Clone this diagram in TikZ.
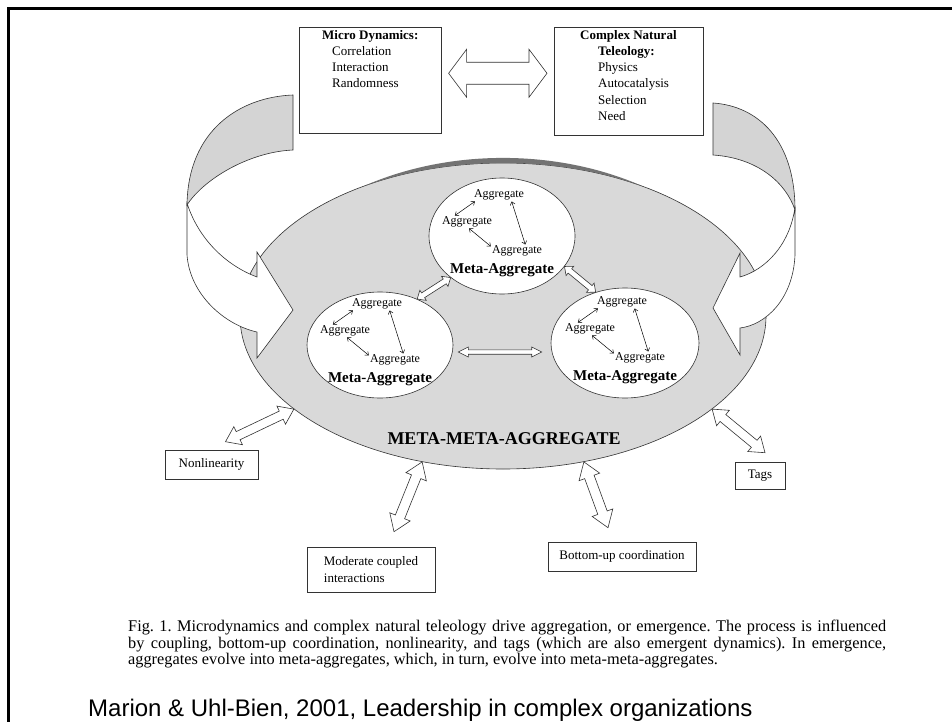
\documentclass[tikz,border=0pt]{standalone}
\usepackage{fontspec}
\setmainfont{Liberation Serif}
\newfontfamily\arialfont{Liberation Sans}
\usetikzlibrary{arrows.meta,calc,shapes.geometric}
\frenchspacing

% hollow double-headed block arrow: [style]{from}{to}{head length}{head half width}{shaft half width}
\newcommand{\blockarrow}[6][]{%
  \coordinate (bs) at #2;
  \coordinate (be) at #3;
  \coordinate (ba1) at ($(bs)!#4!(be)$);
  \coordinate (ba2) at ($(be)!#4!(bs)$);
  \draw[blockarr,#1] (bs) -- ($(ba1)!#5!90:(be)$) -- ($(ba1)!#6!90:(be)$)
    -- ($(ba2)!#6!-90:(bs)$) -- ($(ba2)!#5!-90:(bs)$) -- (be)
    -- ($(ba2)!#5!90:(bs)$) -- ($(ba2)!#6!90:(bs)$)
    -- ($(ba1)!#6!-90:(be)$) -- ($(ba1)!#5!-90:(be)$) -- cycle;
}

\tikzset{
  frameline/.style={line width=3pt,black,line join=miter},
  bigblob/.style={ellipse,draw=black!80,fill=black!15,line width=0.6pt,
    minimum width=526pt,minimum height=306pt,inner sep=0pt},
  metablob/.style={ellipse,draw=black!80,fill=white,line width=0.6pt,inner sep=0pt},
  aggtext/.style={font=\fontsize{12}{13}\selectfont,inner sep=1pt},
  metatext/.style={font=\bfseries\fontsize{15}{17}\selectfont,inner sep=0pt},
  infobox/.style={draw=black!80,fill=white,line width=0.6pt},
  boxtext/.style={font=\fontsize{13}{16.2}\selectfont,align=left,inner sep=0pt},
  thinarr/.style={<->,>={Straight Barb[length=3pt,width=5pt]},line width=0.5pt},
  blockarr/.style={draw=black!80,fill=white,line width=0.6pt,line join=miter},
  ribbonback/.style={draw=black!80,fill=black!17,line width=0.6pt},
  ribbonfront/.style={draw=black!80,fill=white,line width=0.6pt},
}

\begin{document}
\begin{tikzpicture}[x=1pt,y=-1pt]
\useasboundingbox (0,0) rectangle (952,722);
\draw[frameline] (8.5,722) -- (8.5,8.5) -- (952,8.5);

% top boxes
\node[infobox,minimum width=142pt,minimum height=106pt,anchor=north west] (micro) at (299,27) {};
\node[boxtext,anchor=north west] (microtxt) at ([shift={(23,3)}]micro.north west)
  {\textbf{Micro Dynamics:}\\\hspace*{10pt}Correlation\\\hspace*{10pt}Interaction\\\hspace*{10pt}Randomness};
\node[infobox,minimum width=149pt,minimum height=108pt,anchor=north west] (complex) at (554,27) {};
\node[boxtext,anchor=north west] (complextxt) at ([shift={(26,3)}]complex.north west)
  {\textbf{Complex Natural}\\\hspace*{18pt}\textbf{Teleology:}\\\hspace*{18pt}Physics\\\hspace*{18pt}Autocatalysis\\\hspace*{18pt}Selection\\\hspace*{18pt}Need};
\blockarrow{([shift={(7,-7)}]micro.east)}{([shift={(-7,-8)}]complex.west)}{18pt}{24pt}{11pt}

% back faces of the curved arrows
\filldraw[ribbonback] (293,95) .. controls (240,97) and (188,130) .. (187,205)
  .. controls (203,180) and (248,152) .. (293,150) -- cycle;
\filldraw[ribbonback] (713,103) .. controls (758,106) and (795,140) .. (795,210)
  .. controls (786,183) and (758,158) .. (713,155) -- cycle;

% big ellipse
\node[bigblob] (big) at (503,316) {};
\fill[black!55] ($(big.center)+(140,-129.6)$)
  arc[start angle=57.85,end angle=122.15,x radius=263pt,y radius=185.7pt]
  arc[start angle=122.15,end angle=57.85,x radius=263pt,y radius=153pt] -- cycle;

% front faces of the curved arrows
\filldraw[ribbonfront] (187,203) .. controls (198,238) and (225,265) .. (257,277)
  -- (257,252) -- (293,310) -- (257,358) -- (257,332)
  .. controls (225,325) and (190,295) .. (187,255) -- cycle;
\filldraw[ribbonfront] (795,207) .. controls (790,245) and (765,270) .. (740,277)
  -- (740,253) -- (713,308) -- (740,355) -- (740,328)
  .. controls (765,325) and (793,300) .. (795,255) -- cycle;

% meta-aggregates
\foreach \m/\cx/\cy/\rx/\ry in {T/502/236/146/116, L/380/345/146/106, R/625/343/148/110} {
  \node[metablob,minimum width=\rx pt,minimum height=\ry pt] (\m) at (\cx,\cy) {};
  \node[aggtext] (\m a) at ($(\m)+(-3,-41)$) {Aggregate};
  \node[aggtext] (\m b) at ($(\m)+(-35,-14)$) {Aggregate};
  \node[aggtext] (\m c) at ($(\m)+(15,15)$) {Aggregate};
  \node[metatext] (\m t) at ($(\m)+(0,34)$) {Meta-Aggregate};
  \draw[thinarr] (\m b.152) -- (\m a.195);
  \draw[thinarr] (\m b.288) -- (\m c.170);
  \draw[thinarr] (\m a.333) -- (\m c.38);
}
\blockarrow{(L.51)}{(T.219)}{7pt}{6pt}{2.8pt}
\blockarrow{(T.334)}{(R.120)}{7pt}{6pt}{2.8pt}
\blockarrow{($(L.east)+(5,7)$)}{($(R.west)+(-9,9)$)}{10pt}{5pt}{2.2pt}

\node[font=\bfseries\fontsize{18}{20}\selectfont] (mmtitle) at (504,439) {META-META-AGGREGATE};

% influences
\node[infobox,boxtext,minimum width=93pt,minimum height=29pt] (nonlin) at (211.5,464.5) {Nonlinearity};
\node[infobox,boxtext,minimum width=128pt,minimum height=45pt] (moderate) at (371,569.5) {Moderate coupled\\interactions};
\node[infobox,boxtext,minimum width=148pt,minimum height=29pt] (bottomup) at (622,556.5) {Bottom-up coordination};
\node[infobox,boxtext,minimum width=50pt,minimum height=27pt] (tags) at (760,475.5) {Tags};
\blockarrow{(big.204)}{([shift={(14,-8)}]nonlin.north)}{14pt}{10pt}{4.5pt}
\blockarrow{(big.241)}{([shift={(23,-15)}]moderate.north)}{16pt}{11pt}{5pt}
\blockarrow{(big.299)}{([shift={(-14,-14)}]bottomup.north)}{16pt}{11pt}{5pt}
\blockarrow{(big.336)}{([shift={(5,-9)}]tags.north)}{14pt}{10pt}{4.5pt}

% caption and source
\node[anchor=north west,text width=758pt,align=justify,inner sep=0pt,
  font=\fontsize{16.3}{16.6}\selectfont] (caption) at (128,620)
  {Fig.~1. Microdynamics and complex natural teleology drive aggregation, or emergence. The process is influenced\linebreak
   by coupling, bottom-up coordination, nonlinearity, and tags (which are also emergent dynamics). In emergence,\linebreak
   aggregates evolve into meta-aggregates, which, in turn, evolve into meta-meta-aggregates.};
\node[anchor=base west,inner sep=0pt,font=\arialfont\fontsize{24}{26}\selectfont] (source) at (88,716)
  {Marion \& Uhl-Bien, 2001, Leadership in complex organizations};
\end{tikzpicture}
\end{document}
